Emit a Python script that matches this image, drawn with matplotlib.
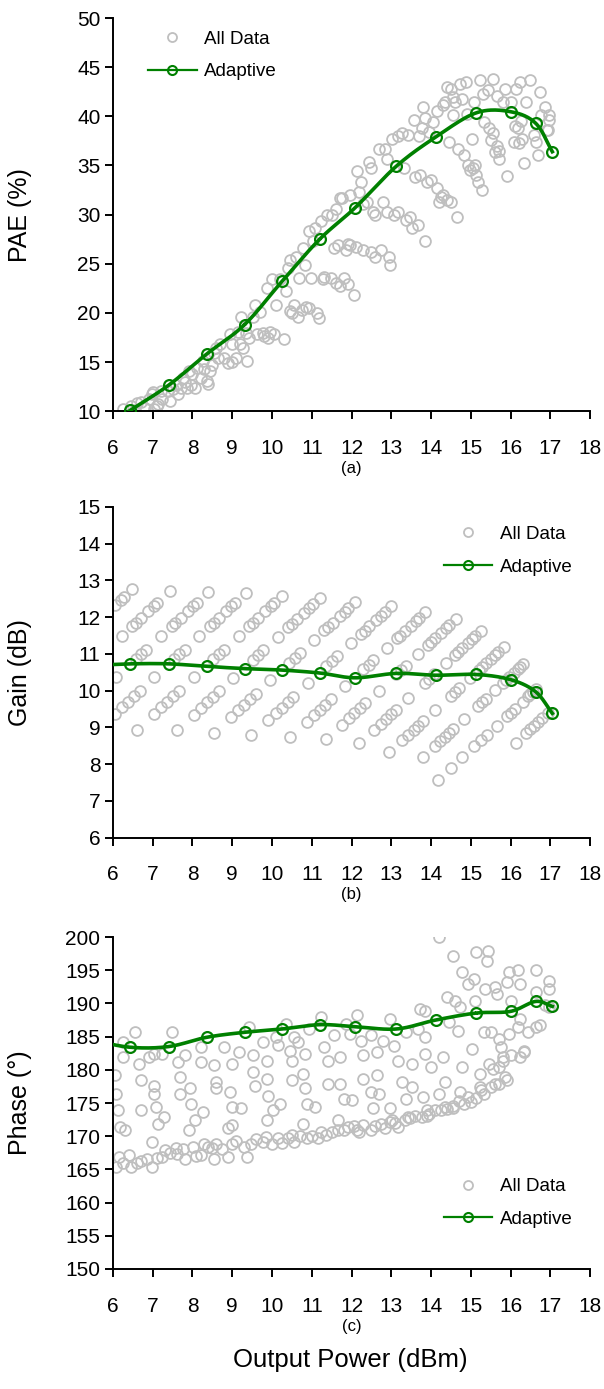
import numpy as np
import matplotlib.pyplot as plt
from matplotlib.lines import Line2D

plt.rcParams['font.family'] = ['Liberation Sans', 'DejaVu Sans']

# ---- Adaptive (first point lies left of the axis and is clipped) ----
adp_pout = [5.45, 6.43, 7.40, 8.36, 9.31, 10.25, 11.2, 12.09, 13.13, 14.12, 15.14, 16.0, 16.63, 17.05]
adp_pae = [7.5, 10.07, 12.64, 15.82, 18.8, 23.2, 27.5, 30.7, 34.94, 37.9, 40.36, 40.47, 39.3, 36.4]
adp_gain = [10.69, 10.73, 10.73, 10.66, 10.6, 10.56, 10.48, 10.35, 10.47, 10.42, 10.44, 10.3, 9.97, 9.38]
adp_phase = [184.5, 183.4, 183.5, 184.9, 185.65, 186.15, 186.8, 186.5, 186.15, 187.5, 188.55, 188.8, 190.3, 189.55]

# ---- All data: PAE vs Pout ----
pae_x = [6.26, 6.46, 6.6, 6.8, 6.9, 6.99, 7.04, 7.14, 7.24, 7.38, 7.43, 7.58, 7.63, 7.72, 7.77, 7.87,
         7.92, 7.97, 8.06, 8.11, 8.21, 8.26, 8.36, 8.45, 8.5, 8.6, 8.65, 8.8, 8.89, 8.94, 8.99, 9.09,
         9.14, 9.23, 9.28, 9.36, 9.43, 9.52, 9.57, 9.62, 9.77, 9.87, 9.91, 9.96, 10.0, 10.06, 10.11, 10.3,
         6.55, 6.7, 7.0, 7.2, 7.5, 7.8, 8.0, 8.3, 8.55, 8.7, 9.0, 9.2, 9.7, 9.8, 9.35, 8.4, 7.1,
         10.2, 10.35, 10.4, 10.45, 10.45, 10.55, 10.6, 10.65, 10.69, 10.79, 10.84, 10.94, 10.94, 10.99,
         11.04, 11.08, 11.13, 11.18, 11.23, 11.28, 11.38, 11.48, 11.52, 11.57, 11.62, 11.72, 11.72, 11.76,
         11.81, 11.86, 11.91, 11.96, 11.96, 12.06, 12.15, 12.2, 12.25, 12.3, 12.4, 12.45, 12.5, 12.5,
         12.54, 12.59, 12.69, 12.74, 12.79, 12.84, 12.88, 12.93, 12.98,
         10.5, 10.75, 10.85, 11.3, 11.6, 11.65, 11.9, 12.1, 12.6, 12.9, 12.3,
         13.03, 13.08, 13.18, 13.18, 13.27, 13.32, 13.37, 13.42, 13.47, 13.52, 13.57, 13.66, 13.71, 13.76,
         13.81, 13.86, 13.86, 13.91, 13.96, 14.05, 14.15, 14.15, 14.2, 14.3, 14.35, 14.39, 14.44, 14.49,
         14.49, 14.54, 14.59, 14.64, 14.69, 14.73, 14.78, 14.83, 14.88, 14.93, 14.98, 15.03, 15.07, 15.12,
         15.17, 15.22, 15.27, 15.32, 15.42, 15.46, 15.51, 15.56, 15.61, 15.66, 15.71, 15.8, 15.85, 15.9,
         16.0, 16.09, 16.14, 16.19, 16.24, 16.29, 16.34, 16.39, 16.49, 16.63, 16.68, 16.73, 16.77, 16.87,
         16.92, 16.97, 16.97,
         13.6, 14.0, 14.4, 14.25, 15.05, 15.1, 15.55, 15.65, 16.2, 16.25, 14.3, 14.55, 15.3, 16.6, 13.7,
         14.9, 16.95, 15.7, 16.1]
pae_y = [10.2, 10.5, 10.8, 10.3, 11.2, 11.7, 10.2, 10.7, 11.2, 12.0, 11.0, 12.7, 11.7, 12.4, 13.4, 12.4,
         14.1, 12.7, 12.4, 14.4, 13.4, 15.1, 13.1, 14.1, 14.7, 16.4, 15.4, 15.4, 14.9, 17.8, 16.8, 15.4,
         18.1, 19.6, 16.4, 15.1, 17.4, 19.6, 20.8, 17.8, 18.0, 22.5, 17.4, 18.1, 23.4, 17.8, 20.8, 17.3,
         10.1, 10.9, 11.9, 12.0, 12.3, 13.0, 13.8, 14.3, 15.9, 16.8, 15.0, 16.8, 20.1, 17.6, 18.0, 12.8, 10.5,
         23.4, 22.2, 24.6, 25.4, 20.2, 20.8, 25.7, 19.6, 23.5, 26.6, 24.9, 20.5, 28.3, 23.5,
         27.3, 28.6, 20.0, 19.5, 29.3, 23.4, 30.0, 23.5, 30.0, 26.6, 30.6, 22.7, 31.7, 31.7,
         23.5, 26.4, 22.9, 26.9, 32.0, 21.8, 34.4, 32.3, 33.3, 26.4, 31.3, 35.4, 26.2, 34.7,
         30.3, 25.7, 36.7, 26.4, 31.3, 36.7, 35.7, 25.7, 24.9,
         20.0, 20.3, 20.6, 23.7, 23.0, 26.9, 27.0, 26.7, 30.0, 30.3, 31.1,
         37.7, 30.0, 30.3, 38.0, 38.3, 34.7, 29.5, 38.1, 29.8, 28.6, 39.6, 28.9, 34.0, 38.8,
         41.0, 27.3, 39.8, 33.3, 38.4, 39.4, 32.7, 40.5, 31.3, 32.0, 41.5, 43.0, 37.4, 31.3,
         42.8, 40.1, 41.5, 29.8, 36.7, 43.3, 41.8, 36.1, 43.5, 35.0, 34.5, 37.7, 41.5, 34.0,
         33.3, 43.7, 32.5, 39.4, 42.7, 38.8, 37.6, 43.8, 36.4, 42.1, 35.7, 41.5, 42.8, 33.9,
         41.5, 37.4, 42.8, 38.8, 43.5, 37.7, 35.2, 41.5, 43.7, 37.4, 36.1, 42.5, 40.1, 41.0,
         38.6, 40.1, 39.6,
         33.8, 33.5, 31.5, 31.8, 34.7, 35.0, 38.3, 37.0, 37.3, 39.5, 41.2, 42.0, 42.3, 38.1, 38.0,
         40.2, 38.6, 36.5, 39.0]

# ---- All data: Gain vs Pout, one list per input-power sweep ----
gain_pout = [
    [6.06, 6.19, 6.28, 6.49],
    [6.22, 6.49, 6.58, 6.71, 6.89, 7.03, 7.12, 7.43],
    [6.08, 6.57, 6.71, 6.84, 7.21, 7.48, 7.57, 7.70, 7.88, 8.02, 8.11, 8.40],
    [6.04, 6.23, 6.38, 6.53, 6.67, 7.04, 7.53, 7.67, 7.80, 8.17, 8.44, 8.53, 8.66, 8.84, 8.98, 9.07, 9.34],
    [6.60, 7.03, 7.22, 7.37, 7.52, 7.66, 8.03, 8.52, 8.66, 8.79, 9.16, 9.43, 9.52, 9.65, 9.83, 9.97, 10.06, 10.25],
    [7.60, 8.03, 8.22, 8.37, 8.52, 8.66, 9.03, 9.51, 9.65, 9.78, 10.14, 10.41, 10.50, 10.63, 10.80, 10.94, 11.03, 11.20],
    [8.53, 8.96, 9.15, 9.30, 9.45, 9.59, 9.96, 10.44, 10.58, 10.71, 11.06, 11.32, 11.41, 11.53, 11.70, 11.83, 11.92, 12.08],
    [9.48, 9.90, 10.09, 10.24, 10.39, 10.53, 10.90, 11.37, 11.51, 11.64, 11.99, 12.24, 12.33, 12.45, 12.61, 12.74, 12.83, 13.00],
    [10.46, 10.87, 11.05, 11.20, 11.34, 11.48, 11.84, 12.30, 12.43, 12.55, 12.89, 13.14, 13.22, 13.34, 13.49, 13.62, 13.70, 13.85],
    [11.36, 11.75, 11.93, 12.07, 12.21, 12.34, 12.68, 13.12, 13.25, 13.36, 13.68, 13.92, 14.00, 14.11, 14.26, 14.38, 14.46, 14.62],
    [12.20, 12.56, 12.73, 12.86, 12.99, 13.11, 13.43, 13.84, 13.96, 14.07, 14.37, 14.60, 14.68, 14.78, 14.92, 15.04, 15.11, 15.26],
    [12.95, 13.28, 13.43, 13.56, 13.68, 13.80, 14.10, 14.49, 14.60, 14.70, 14.98, 15.20, 15.27, 15.37, 15.50, 15.61, 15.68, 15.83],
    [13.80, 14.10, 14.23, 14.35, 14.46, 14.56, 14.83, 15.18, 15.28, 15.37, 15.62, 15.81, 15.88, 15.96, 16.08, 16.18, 16.24, 16.32],
    [14.18, 14.49, 14.79, 15.09, 15.25, 15.40, 15.65, 15.90, 16.00, 16.10, 16.30, 16.45, 16.50, 16.57, 16.65],
    [16.13, 16.40, 16.50, 16.60, 16.70, 16.80, 16.93],
]
gain_db = [
    [12.33, 12.46, 12.55, 12.76],
    [11.49, 11.76, 11.85, 11.98, 12.16, 12.30, 12.39, 12.70],
    [10.36, 10.85, 10.99, 11.12, 11.49, 11.76, 11.85, 11.98, 12.16, 12.30, 12.39, 12.68],
    [9.36, 9.55, 9.70, 9.85, 9.99, 10.36, 10.85, 10.99, 11.12, 11.49, 11.76, 11.85, 11.98, 12.16, 12.30, 12.39, 12.66],
    [8.93, 9.36, 9.55, 9.70, 9.85, 9.99, 10.36, 10.85, 10.99, 11.12, 11.49, 11.76, 11.85, 11.98, 12.16, 12.30, 12.39, 12.58],
    [8.92, 9.35, 9.54, 9.69, 9.84, 9.98, 10.35, 10.83, 10.97, 11.10, 11.46, 11.73, 11.82, 11.95, 12.12, 12.26, 12.35, 12.52],
    [8.85, 9.28, 9.47, 9.62, 9.77, 9.91, 10.28, 10.76, 10.90, 11.03, 11.38, 11.64, 11.73, 11.85, 12.02, 12.15, 12.24, 12.40],
    [8.78, 9.20, 9.39, 9.54, 9.69, 9.83, 10.20, 10.67, 10.81, 10.94, 11.29, 11.54, 11.63, 11.75, 11.91, 12.04, 12.13, 12.30],
    [8.74, 9.15, 9.33, 9.48, 9.62, 9.76, 10.12, 10.58, 10.71, 10.83, 11.17, 11.42, 11.50, 11.62, 11.77, 11.90, 11.98, 12.13],
    [8.68, 9.07, 9.25, 9.39, 9.53, 9.66, 10.00, 10.44, 10.57, 10.68, 11.00, 11.24, 11.32, 11.43, 11.58, 11.70, 11.78, 11.94],
    [8.57, 8.93, 9.10, 9.23, 9.36, 9.48, 9.80, 10.21, 10.33, 10.44, 10.74, 10.97, 11.05, 11.15, 11.29, 11.41, 11.48, 11.63],
    [8.32, 8.65, 8.80, 8.93, 9.05, 9.17, 9.47, 9.86, 9.97, 10.07, 10.35, 10.57, 10.64, 10.74, 10.87, 10.98, 11.05, 11.20],
    [8.20, 8.50, 8.63, 8.75, 8.86, 8.96, 9.23, 9.58, 9.68, 9.77, 10.02, 10.21, 10.28, 10.36, 10.48, 10.58, 10.64, 10.72],
    [7.58, 7.89, 8.19, 8.49, 8.65, 8.80, 9.05, 9.30, 9.40, 9.50, 9.70, 9.85, 9.90, 9.97, 10.05],
    [8.58, 8.85, 8.95, 9.05, 9.15, 9.25, 9.38],
]

# ---- All data: Phase vs Pout ----
ph_x = [6.07, 6.26, 6.46, 6.6, 6.99, 6.85, 7.24, 7.43, 7.58, 7.82, 8.02, 8.21, 8.4, 8.55, 8.6, 8.89,
        8.99, 9.38, 9.48, 9.77, 10.0, 10.16, 10.4, 10.55, 10.89, 11.23, 11.37, 11.67, 11.9, 12.15, 12.3,
        12.5, 12.74, 12.98, 13.18, 13.47, 13.76, 13.96, 14.25, 14.54, 14.83, 15.12, 15.32, 15.51, 15.71, 15.85,
        6.15, 6.4, 6.7, 7.1, 7.3, 7.6, 7.75, 8.1, 8.3, 8.5, 8.75, 9.1, 9.3, 9.6, 9.85, 10.25, 10.5, 10.7,
        11.0, 11.15, 11.5, 11.8, 12.05, 12.2, 12.6, 12.85, 13.1, 13.35, 13.6, 13.9, 14.1, 14.4, 14.7, 15.0,
        15.25, 15.6, 15.9,
        6.26, 6.55, 6.26, 6.65, 6.9, 7.04, 7.24, 7.48, 7.63, 7.82, 8.21, 8.21, 8.55, 8.8, 8.99, 9.18, 9.43,
        9.53, 9.77, 9.87, 10.1, 10.16, 10.35, 10.45, 10.55, 10.65, 10.84, 10.94, 11.23, 11.32, 11.42, 11.57,
        11.72, 11.86, 11.96, 12.15, 12.25, 12.3, 12.5, 12.64, 12.79, 12.98, 13.08, 13.18, 13.37, 13.52, 13.66,
        13.71, 13.86, 13.86, 13.86, 14.0, 14.3, 14.4, 14.44, 14.6, 14.69, 14.73, 14.78, 14.78, 14.54, 14.2,
        14.93, 15.03, 15.07, 15.1, 15.14, 15.22, 15.32, 15.36, 15.4, 15.43, 15.46, 15.51, 15.61, 15.66, 15.71,
        15.76, 15.8, 15.9, 15.95, 15.95, 16.0, 16.19, 16.24, 16.24, 16.19, 16.24, 16.34, 16.44, 16.63, 16.63,
        16.63, 16.73, 16.87, 16.97, 16.97, 16.97,
        6.05, 6.07, 6.12, 6.17, 6.31, 6.7, 6.7, 7.04, 7.04, 7.09, 7.14, 7.29, 6.99, 7.68, 7.68, 7.95, 7.97,
        8.07, 7.92, 8.26, 8.6, 8.6, 8.94, 8.99, 9.23, 8.99, 8.89, 9.53, 9.57, 9.87, 9.91, 9.87, 10.02, 10.21,
        10.5, 10.5, 10.79, 10.84, 10.89, 10.79, 11.08, 11.42, 11.72, 11.81, 12.0, 11.67, 12.3, 12.5, 12.54,
        12.69, 12.64, 12.98, 13.03, 13.27, 13.37, 13.42, 13.52, 13.81, 13.91, 14.2, 14.35, 14.35, 14.54,
        14.73, 14.93, 15.22, 15.56, 15.71, 15.8, 16.0, 16.34]
ph_y = [165.4, 165.9, 165.4, 165.9, 165.4, 166.6, 166.9, 167.4, 168.2, 166.6, 168.4, 167.2, 168.4, 166.6,
        168.9, 166.9, 168.9, 166.9, 168.9, 169.2, 168.9, 169.7, 169.7, 169.2, 169.7, 170.7, 170.2, 170.9,
        171.4, 170.9, 171.7, 170.9, 171.9, 172.2, 171.4, 172.7, 172.9, 173.4, 173.9, 174.2, 174.9, 175.7,
        176.4, 177.4, 177.9, 178.9,
        166.8, 167.2, 166.2, 166.7, 167.9, 167.3, 168.1, 167.0, 168.8, 168.2, 168.0, 169.3, 168.4, 169.6,
        169.9, 169.0, 170.2, 170.0, 170.1, 169.8, 170.6, 171.0, 171.6, 170.6, 171.5, 171.2, 172.0, 172.4,
        173.1, 173.0, 173.9, 174.1, 175.3, 175.2, 176.9, 177.8, 178.5,
        184.2, 185.7, 181.9, 180.9, 181.9, 182.4, 182.4, 185.7, 181.2, 182.2, 181.2, 183.4, 180.7, 183.4,
        180.9, 182.7, 186.4, 182.2, 184.2, 181.4, 184.9, 183.7, 186.9, 182.9, 184.9, 184.2, 182.4, 186.2,
        187.9, 183.4, 181.4, 185.2, 181.9, 186.9, 185.4, 188.2, 184.4, 182.2, 185.2, 182.7, 184.4, 187.6,
        183.6, 181.4, 185.7, 180.9, 186.2, 189.2, 188.9, 184.9, 182.4, 180.4, 181.9, 190.9, 187.2, 190.4,
        185.9, 189.4, 194.7, 180.4, 197.2, 200.0, 192.9, 183.2, 193.7, 190.4, 197.7, 179.4, 185.7, 192.2,
        196.4, 197.9, 180.9, 185.7, 192.4, 191.4, 184.7, 183.4, 181.4, 193.2, 194.7, 185.4, 190.4, 195.1,
        192.9, 187.6, 186.4, 181.9, 182.7, 185.7, 195.1, 191.7, 186.4, 186.7, 189.7, 193.4, 192.2, 189.4,
        179.2, 176.4, 173.9, 171.4, 170.9, 173.9, 178.4, 177.6, 176.4, 174.4, 171.9, 172.9, 169.2, 178.9,
        176.4, 177.2, 174.9, 172.4, 170.9, 173.7, 178.2, 177.2, 176.7, 174.4, 174.2, 171.7, 171.2, 179.6,
        177.6, 178.6, 176.1, 172.4, 173.9, 174.9, 181.4, 178.4, 179.4, 177.2, 174.9, 171.9, 174.4, 177.9,
        177.9, 175.6, 175.4, 172.4, 178.6, 176.6, 174.2, 176.4, 179.2, 174.2, 172.4, 178.2, 175.6, 172.9,
        177.4, 175.9, 173.9, 176.4, 178.2, 174.4, 174.6, 176.6, 175.9, 177.4, 180.1, 180.4, 181.9, 182.2,
        182.9]

x_ticks = list(range(6, 19))
green = '#008000'
grey = '#BFBFBF'


def smooth(x, y, n=24):
    # Catmull-Rom curve through the points, like a smoothed spreadsheet line
    x = np.asarray(x, float)
    y = np.asarray(y, float)
    px = np.concatenate([[2 * x[0] - x[1]], x, [2 * x[-1] - x[-2]]])
    py = np.concatenate([[2 * y[0] - y[1]], y, [2 * y[-1] - y[-2]]])
    t = np.linspace(0, 1, n)[:, None]
    xs, ys = [], []
    for i in range(1, len(px) - 2):
        for arr, out in ((px, xs), (py, ys)):
            p0, p1, p2, p3 = arr[i - 1], arr[i], arr[i + 1], arr[i + 2]
            c = 0.5 * ((2 * p1) + (-p0 + p2) * t + (2 * p0 - 5 * p1 + 4 * p2 - p3) * t ** 2
                       + (-p0 + 3 * p1 - 3 * p2 + p3) * t ** 3)
            out.append(c.ravel())
    return np.concatenate(xs), np.concatenate(ys)


fig = plt.figure(figsize=(6.04, 13.89), dpi=100)
axes = [fig.add_axes([0.187, 0.704, 0.790, 0.283]),
        fig.add_axes([0.187, 0.397, 0.790, 0.238]),
        fig.add_axes([0.187, 0.0864, 0.790, 0.239])]

panels = [
    (pae_x, pae_y, adp_pae, (10, 50), 5, 'PAE (%)', '(a)', (0.073, 0.968)),
    (np.concatenate(gain_pout), np.concatenate(gain_db), adp_gain, (6, 15), 1, 'Gain (dB)', '(b)', (0.693, 0.943)),
    (ph_x, ph_y, adp_phase, (150, 200), 5, 'Phase (°)', '(c)', (0.693, 0.274)),
]

for ax, (sx, sy, ay, ylim, ystep, ylab, tag, leg_pos) in zip(axes, panels):
    ax.plot(sx, sy, 'o', ms=7.8, mfc='none', mec=grey, mew=1.3, zorder=2)
    lx, ly = smooth(adp_pout, ay)
    ax.plot(lx, ly, '-', color=green, lw=2.6, zorder=3)
    ax.plot(adp_pout, ay, 'o', ms=7.8, mfc='none', mec=green, mew=1.6, zorder=4)

    ax.set_xlim(6, 18)
    ax.set_ylim(*ylim)
    ax.set_xticks(x_ticks)
    ax.set_yticks(np.arange(ylim[0], ylim[1] + 0.1, ystep))
    for s in ('top', 'right'):
        ax.spines[s].set_visible(False)
    for s in ('left', 'bottom'):
        ax.spines[s].set_linewidth(1.4)
    ax.tick_params(axis='both', direction='out', length=6, width=1.4, labelsize=15)
    ax.tick_params(axis='x', pad=14)
    ax.tick_params(axis='y', pad=3)
    ax.set_ylabel(ylab, fontsize=18)
    ax.yaxis.set_label_coords(-0.17, 0.5)
    ax.set_xlabel(tag, fontsize=12, labelpad=2)

    handles = [Line2D([], [], ls='none', marker='o', ms=6.5, mfc='none', mec=grey, mew=1.3),
               Line2D([], [], color=green, lw=1.6, marker='o', ms=6.5, mfc='none', mec=green, mew=1.5)]
    ax.legend(handles, ['All Data', 'Adaptive'], loc='upper left', bbox_to_anchor=leg_pos,
              frameon=False, fontsize=13.5, handlelength=2.6, handletextpad=0.4,
              labelspacing=0.83, borderpad=0, borderaxespad=0)

fig.text(0.58, 0.012, 'Output Power (dBm)', ha='center', va='bottom', fontsize=18.5)

fig.savefig('out.png', dpi=100)
